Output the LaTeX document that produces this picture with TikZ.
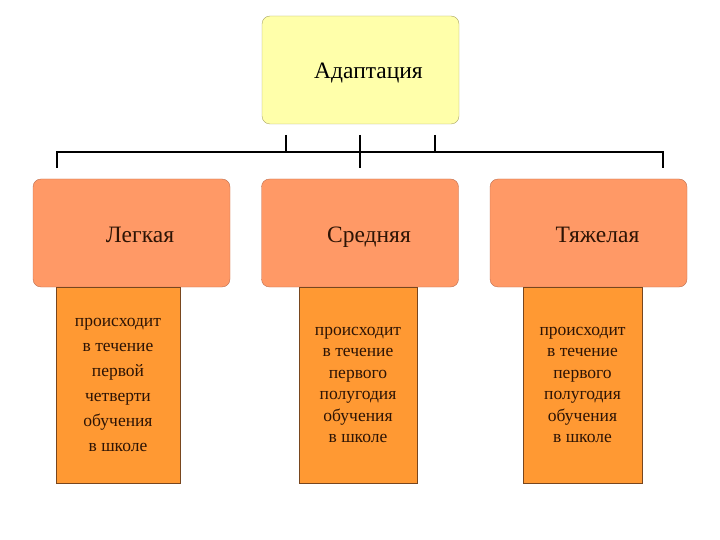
\documentclass[tikz,border=0pt]{standalone}
\usepackage{fontspec}
\setmainfont{Liberation Serif}
\usepackage{tikz}
\usetikzlibrary{positioning,calc}
\definecolor{PaleYellow}{RGB}{255,255,170}
\definecolor{YellowEdge}{RGB}{170,165,100}
\definecolor{Salmon}{RGB}{255,153,102}
\definecolor{SalmonEdge}{RGB}{190,110,80}
\definecolor{OrangeFill}{RGB}{255,153,51}
\definecolor{OrangeEdge}{RGB}{120,70,30}
\definecolor{DarkText}{RGB}{45,20,5}

\begin{document}
\begin{tikzpicture}[
  x=1pt, y=-1pt,
  root/.style={
    rectangle, draw=YellowEdge, fill=PaleYellow, rounded corners=8pt,
    minimum width=197pt, minimum height=108pt,
    text height=23pt, text depth=5pt,
    font=\fontsize{23.5}{28}\selectfont
  },
  head/.style={
    rectangle, draw=SalmonEdge, fill=Salmon, rounded corners=8pt,
    minimum width=197pt, minimum height=108pt, text=DarkText,
    text height=23pt, text depth=5pt,
    font=\fontsize{23.5}{28}\selectfont
  },
  info/.style={
    rectangle, draw=OrangeEdge, fill=OrangeFill, text=DarkText,
    minimum width=120pt, minimum height=196pt, align=center
  },
  conn/.style={line width=2pt, black}
]
\useasboundingbox (0,0) rectangle (720,540);

% ---- Boxes ----
\node[root] (adapt)  at (360.5,70)  {\hspace*{16pt}Адаптация};

\node[head] (easy)   at (131.5,233) {\hspace*{17pt}Легкая};
\node[head] (middle) at (360,233)   {\hspace*{18pt}Средняя};
\node[head] (hard)   at (588.5,233) {\hspace*{18pt}Тяжелая};

\node[info, minimum width=124pt, font=\fontsize{17.5}{25}\selectfont]
  (easytxt) at (118,385) {происходит\\в течение\\первой\\четверти\\обучения\\в школе};
\node[info, minimum width=118pt, font=\fontsize{17.5}{21.5}\selectfont]
  (midtxt)  at (358,385) {происходит\\в течение\\первого\\полугодия\\обучения\\в школе};
\node[info, minimum width=119pt, font=\fontsize{17.5}{21.5}\selectfont]
  (hardtxt) at (582.5,385) {происходит\\в течение\\первого\\полугодия\\обучения\\в школе};

% ---- Bracket ----
\coordinate (barL) at (57,152);
\coordinate (barR) at (663,152);
\coordinate (tickA) at (286,135);
\coordinate (tickB) at (360,135);
\coordinate (tickC) at (435,135);
\coordinate (dropL) at (57,168);
\coordinate (dropM) at (360,168);
\coordinate (dropR) at (663,168);

\draw[conn] (dropL) -- (barL) -- (barR) -- (dropR);
\draw[conn] (tickA) -- (tickA |- barL);
\draw[conn] (tickB) -- (dropM);
\draw[conn] (tickC) -- (tickC |- barL);

\end{tikzpicture}
\end{document}
